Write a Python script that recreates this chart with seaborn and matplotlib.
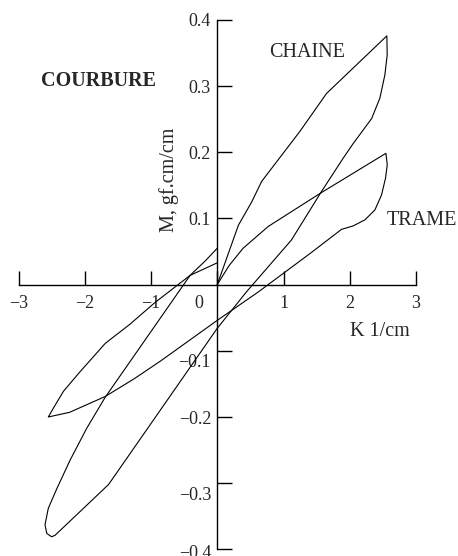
import matplotlib
matplotlib.use("Agg")
import matplotlib.pyplot as plt
import matplotlib.transforms as mtransforms
import seaborn as sns
import pandas as pd

# Bending hysteresis loops: moment M (gf.cm/cm) versus curvature K (1/cm)
chaine_k = [0.0, 0.32, 0.52, 0.67, 1.25, 1.65, 2.56,
            2.565, 2.53, 2.455, 2.33, 2.05, 1.9, 1.575, 1.12, 0.44, 0.0,
            -1.64, -2.45, -2.5, -2.573, -2.6, -2.55, -2.42, -2.22, -1.97,
            -1.69, -0.41, -0.18, 0.0]
chaine_m = [0.0, 0.09, 0.125, 0.156, 0.232, 0.289, 0.376,
            0.347, 0.317, 0.282, 0.251, 0.213, 0.191, 0.141, 0.0675, -0.011, -0.066,
            -0.302, -0.379, -0.381, -0.376, -0.363, -0.338, -0.308, -0.265, -0.217,
            -0.170, 0.014, 0.036, 0.055]

trame_k = [0.0, 0.18, 0.39, 0.77, 1.57, 2.546,
           2.566, 2.54, 2.48, 2.38, 2.23, 2.05, 1.876, 1.4, 0.62, 0.0,
           -0.85, -1.25, -1.69, -2.23, -2.55,
           -2.47, -2.32, -2.07, -1.69, -1.32, -0.94, -0.41, 0.0]
trame_m = [0.0, 0.029, 0.055, 0.088, 0.139, 0.1985,
           0.181, 0.161, 0.1356, 0.113, 0.098, 0.0887, 0.0836, 0.047, -0.011, -0.054,
           -0.115, -0.142, -0.169, -0.193, -0.2,
           -0.186, -0.161, -0.1315, -0.0887, -0.06, -0.027, 0.014, 0.033]

x_ticks = [-3, -2, -1, 0, 1, 2, 3]
x_labels = ["\u22123", "\u22122", "\u22121", "0", "1", "2", "3"]
y_ticks = [0.4, 0.3, 0.2, 0.1, -0.1, -0.2, -0.3, -0.4]
y_labels = ["0.4", "0.3", "0.2", "0.1", "\u22120.1", "\u22120.2", "\u22120.3", "\u22120.4"]

sns.set_theme(style="white")
plt.rcParams["font.family"] = ["Liberation Serif", "DejaVu Serif"]

W, H = 458, 556
fig = plt.figure(figsize=(W / 100, H / 100), dpi=100)
ax = fig.add_axes([18.5 / W, 1 - 549.3 / H, 397.5 / W, 529.3 / H])
ax.set_facecolor("none")

chaine = pd.DataFrame({"K": chaine_k, "M": chaine_m})
trame = pd.DataFrame({"K": trame_k, "M": trame_m})
for df in (chaine, trame):
    sns.lineplot(data=df, x="K", y="M", sort=False, estimator=None,
                 color="black", linewidth=0.8, ax=ax)

ax.set_xlim(-3, 3)
ax.set_ylim(-0.4, 0.4)
for side in ("top", "right"):
    ax.spines[side].set_visible(False)
ax.spines["left"].set_position(("data", 0))
ax.spines["bottom"].set_position(("data", 0))
for side in ("left", "bottom"):
    ax.spines[side].set_color("black")
    ax.spines[side].set_linewidth(1.0)

ax.set_xticks(x_ticks)
ax.set_xticklabels(x_labels)
ax.set_yticks(y_ticks)
ax.set_yticklabels(y_labels)
ax.tick_params(axis="x", direction="in", length=10, width=1.0, color="black",
               pad=7.5, labelsize=13, bottom=True)
ax.tick_params(axis="y", direction="in", length=10.5, width=1.0, color="black",
               pad=4.5, labelsize=13, left=True)
ax.set_xlabel("")
ax.set_ylabel("")

# nudge a few tick labels off the axes lines (in pixels)
def shift(label, dx, dy):
    label.set_transform(label.get_transform() +
                        mtransforms.ScaledTranslation(dx / 100, -dy / 100, fig.dpi_scale_trans))

shift(ax.get_xticklabels()[3], -18, 0)
for lab, dy in zip(ax.get_yticklabels(), [0, 0, 0, 0, 10, 1, 10, 2]):
    if dy:
        shift(lab, 0, dy)

def fx(px):
    return px / W

def fy(py):
    return 1 - py / H

fs = 14.5
fig.text(fx(98.5), fy(85.7), "COURBURE", fontsize=fs, fontweight="bold",
         ha="center", va="baseline")
fig.text(fx(307.5), fy(56.7), "CHAINE", fontsize=fs, ha="center", va="baseline")
fig.text(fx(421.7), fy(225), "TRAME", fontsize=fs, ha="center", va="baseline")
fig.text(fx(380.3), fy(336), "K 1/cm", fontsize=fs, ha="center", va="baseline")
fig.text(fx(174), fy(180), "M, gf.cm/cm", fontsize=fs, rotation=90,
         rotation_mode="anchor", ha="center", va="baseline")

fig.savefig("out.png", dpi=100)
